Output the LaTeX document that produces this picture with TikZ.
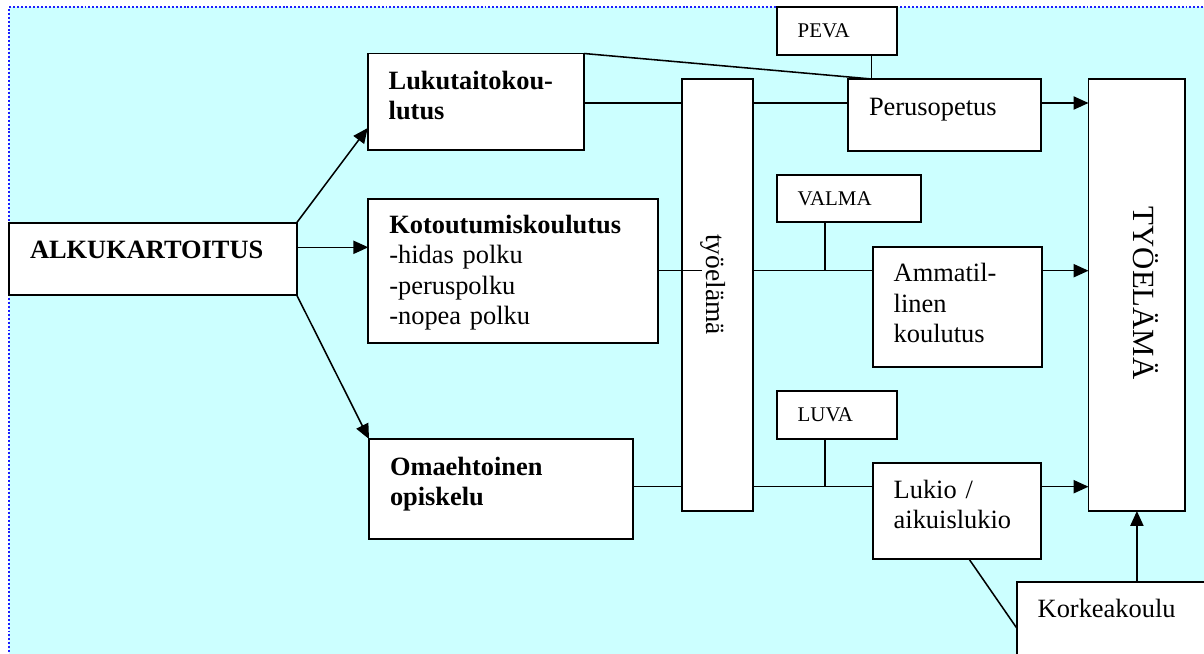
\documentclass[tikz,border=0pt]{standalone}
\usepackage{fontspec}
\setmainfont{Liberation Serif}
\usetikzlibrary{arrows.meta,calc}
\definecolor{bgcyan}{RGB}{204,255,255}
\definecolor{bordblue}{RGB}{30,30,255}
\newcommand{\mkbox}[5]{\node[boxst, minimum width={(#4-(#2))*0.4545pt}, minimum height={(#5-(#3))*0.4545pt}] (#1) at (#2,#3) {};}
\begin{document}
\begin{tikzpicture}[x=0.4545pt, y=-0.4545pt,
  boxst/.style={draw=black, fill=white, line width=0.75pt, anchor=north west, inner sep=0pt, outer sep=0pt},
  txt/.style={anchor=base west, inner sep=0pt, outer sep=0pt, font=\fontsize{12}{13.8}\selectfont, text width=200pt, align=left},
  smalltxt/.style={anchor=base west, inner sep=0pt, outer sep=0pt, font=\fontsize{9.5}{11}\selectfont},
  conn/.style={line width=0.7pt},
  arr/.style={conn, -{Triangle[length=6.8pt,width=6pt]}}
]
\useasboundingbox (0,0) rectangle (1204,653);
\clip (0,0) rectangle (1204,653);
\fill[white] (0,0) rectangle (1204,653);
\fill[bgcyan] (9,7) rectangle (1230,680);
\draw[bordblue, line width=0.9pt, dash pattern=on 0.9pt off 0.9pt] (9,680) -- (9,7) -- (1230,7);

% boxes
\mkbox{alku}{9}{222.7}{296.7}{295}
\mkbox{luku}{367.7}{53.5}{584}{150}
\mkbox{koto}{368.3}{199}{657.7}{342.7}
\mkbox{omae}{369}{439}{633.3}{539}
\mkbox{tyo}{681.7}{79}{752.7}{510.7}
\mkbox{peva}{776.7}{7}{897}{55}
\mkbox{peru}{848}{79}{1041}{151}
\mkbox{valma}{776.7}{175}{921}{222}
\mkbox{amma}{872.7}{246.7}{1041.7}{366.7}
\mkbox{luva}{776.7}{390.7}{897}{439}
\mkbox{lukio}{872.7}{462.7}{1041}{559}
\mkbox{TYO}{1088.5}{79}{1185.3}{511}
\mkbox{korkea}{1016.7}{582.3}{1230}{680}

% texts
\node[txt] (t-alku) at ($(alku.north west)+(21,36)$) {\bfseries ALKUKARTOITUS};
\node[txt] (t-luku) at ($(luku.north west)+(21,35.5)$) {\bfseries Lukutaitokou-\\lutus};
\node[txt] (t-koto) at ($(koto.north west)+(21,34.5)$) {\textbf{Kotoutumiskoulutus}\\-hidas polku\\-peruspolku\\-nopea polku};
\node[txt] (t-omae) at ($(omae.north west)+(21,36)$) {\bfseries Omaehtoinen\\opiskelu};
\node[txt] (t-peru) at ($(peru.north west)+(21,36)$) {Perusopetus};
\node[txt] (t-amma) at ($(amma.north west)+(21,35)$) {Ammatil-\\linen\\koulutus};
\node[txt] (t-lukio) at ($(lukio.north west)+(21,35.6)$) {Lukio /\\aikuislukio};
\node[txt] (t-korkea) at ($(korkea.north west)+(21,35)$) {Korkeakoulu};
\node[smalltxt] (t-peva) at ($(peva.north west)+(21,30)$) {PEVA};
\node[smalltxt] (t-valma) at ($(valma.north west)+(21,30.7)$) {VALMA};
\node[smalltxt] (t-luva) at ($(luva.north west)+(21,31)$) {LUVA};
\node[anchor=base west, rotate=-90, inner sep=0pt, outer sep=0pt, font=\fontsize{12.5}{14}\selectfont] (t-tyo) at ($(tyo.north west)+(24.3,155)$) {työelämä};
\node[anchor=base west, rotate=-90, inner sep=0pt, outer sep=0pt, font=\fontsize{14}{16}\selectfont] (t-TYO) at ($(TYO.north west)+(44.8,127.7)$) {TYÖELÄMÄ};

% connectors from ALKUKARTOITUS
\draw[arr] (alku.north east) -- ($(luku.north west)+(0,74.5)$);
\draw[arr] ($(alku.north east)+(0,24.6)$) coordinate (a1) -- (a1 -| koto.west);
\draw[arr] (alku.south east) -- (omae.north west);

% top row
\coordinate (l1) at ($(luku.north east)+(0,49.5)$);
\draw[conn] (l1) -- (l1 -| tyo.west);
\draw[conn] (l1 -| tyo.east) -- (l1 -| peru.west);
\draw[arr] (l1 -| peru.east) -- (l1 -| TYO.west);
\coordinate (pj) at ($(peru.north west)+(23.7,0)$);
\draw[conn] (luku.north east) -- (pj);
\draw[conn] (pj |- peva.south) -- (pj);

% middle row
\coordinate (kend) at ($(koto.north east)+(44.3,71.7)$);
\draw[conn] (kend -| koto.east) -- (kend);
\draw[conn] (kend -| tyo.east) -- (kend -| amma.west);
\coordinate (vj) at ($(valma.south west)+(48.3,0)$);
\draw[conn] (vj) -- (vj |- kend);
\draw[arr] (kend -| amma.east) -- (kend -| TYO.west);

% bottom row
\coordinate (oj) at ($(omae.north east)+(0,47.7)$);
\draw[conn] (oj) -- (oj -| tyo.west);
\draw[conn] (oj -| tyo.east) -- (oj -| lukio.west);
\coordinate (lj) at ($(luva.south west)+(48.3,0)$);
\draw[conn] (lj) -- (lj |- oj);
\draw[arr] (oj -| lukio.east) -- (oj -| TYO.west);

% Korkeakoulu
\draw[conn] ($(lukio.south west)+(96.3,0)$) -- ($(korkea.north west)+(0,45.7)$);
\draw[arr] (TYO.south |- korkea.north) -- (TYO.south);
\end{tikzpicture}
\end{document}
